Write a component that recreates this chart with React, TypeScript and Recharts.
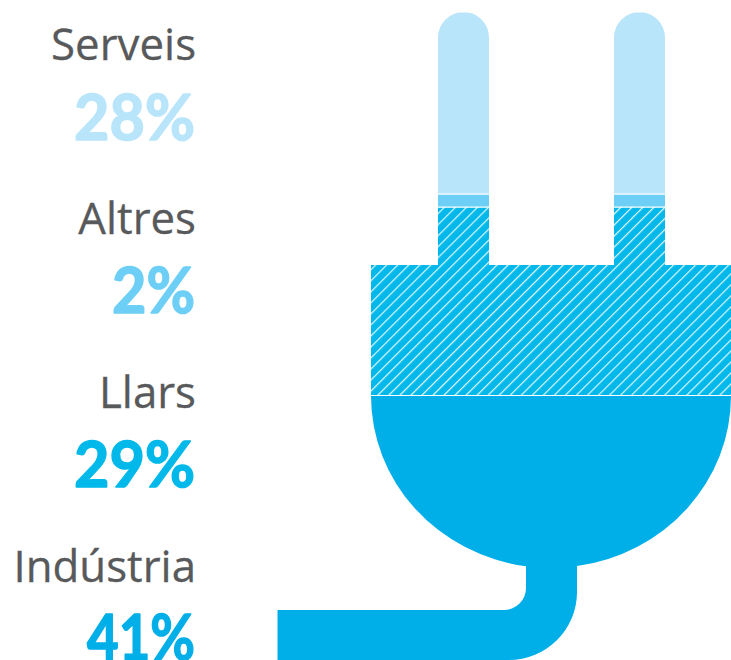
import React from "react";
import { BarChart, Bar, XAxis, YAxis } from "recharts";

const categories = ["Indústria", "Llars", "Altres", "Serveis"];
const values = [41, 29, 2, 28];
const fills = ["#00AEE8", "url(#hatch)", "#6DCFF6", "#B9E5FB"];
const labelColors = ["#00AEE8", "#00B9EA", "#6DCFF6", "#B9E5FB"];
const nameBaselines = [582, 408, 234, 60];
const valueBaselines = [660, 487, 313, 140];
const valueWidths = [108, 121, 83, 121];

const row: Record<string, string | number> = { name: "plug" };
categories.forEach((c, i) => { row[c] = values[i]; });
const data = [row];

const PLUG_BODY = "M371 265H731V396A180 172 0 0 1 371 396Z";
const PLUG_CORD = "M526 540H577V592A68 68 0 0 1 509 660H277V610H504A22 22 0 0 0 526 588Z";
const PRONG_A = "M438 280V37.5A25.5 25.5 0 0 1 489 37.5V280Z";
const PRONG_B = "M614 280V37.5A25.5 25.5 0 0 1 665 37.5V280Z";

const ClippedBar = (props: any) => {
  const { x, y, width, height, fill } = props;
  return <rect x={x} y={y} width={width} height={height} fill={fill} stroke="#fff" strokeWidth={1} clipPath="url(#plug)" />;
};

export default function App() {
  return (
    <div style={{ position: "absolute", left: 0, top: 0, width: 731, height: 660, overflow: "hidden" }}>
      <BarChart
        width={760}
        height={662}
        data={data}
        barCategoryGap={0}
        margin={{ top: 12, right: 0, bottom: 0, left: 277 }}
      >
        <defs>
          <pattern id="hatch" patternUnits="userSpaceOnUse" width={7.8} height={7.8} patternTransform="rotate(45)">
            <rect width={7.8} height={7.8} fill="#00B9EA" />
            <rect width={1.2} height={7.8} fill="#E6F7FD" />
          </pattern>
          <clipPath id="plug">
            <path d={PLUG_BODY} />
            <path d={PLUG_CORD} />
            <path d={PRONG_A} />
            <path d={PRONG_B} />
          </clipPath>
        </defs>
        <XAxis dataKey="name" hide />
        <YAxis hide domain={[0, 100]} />
        {categories.map((c, i) => (
          <Bar key={c} dataKey={c} stackId="plug" fill={fills[i]} isAnimationActive={false} shape={ClippedBar} />
        ))}
        <g textAnchor="end">
          {categories.map((c, i) => (
            <React.Fragment key={c}>
              <text x={196} y={nameBaselines[i]} fontFamily="'Open Sans'" fontSize={43.8} fill="#58595B" stroke="#58595B" strokeWidth={0.3}>{c}</text>
              <text x={195} y={valueBaselines[i]} fontFamily="Lato" fontWeight={700} fontSize={63} textLength={valueWidths[i]} lengthAdjust="spacingAndGlyphs" fill={labelColors[i]}
                stroke={labelColors[i]} strokeWidth={1.5} strokeLinejoin="round">{values[i]}%</text>
            </React.Fragment>
          ))}
        </g>
      </BarChart>
    </div>
  );
}
